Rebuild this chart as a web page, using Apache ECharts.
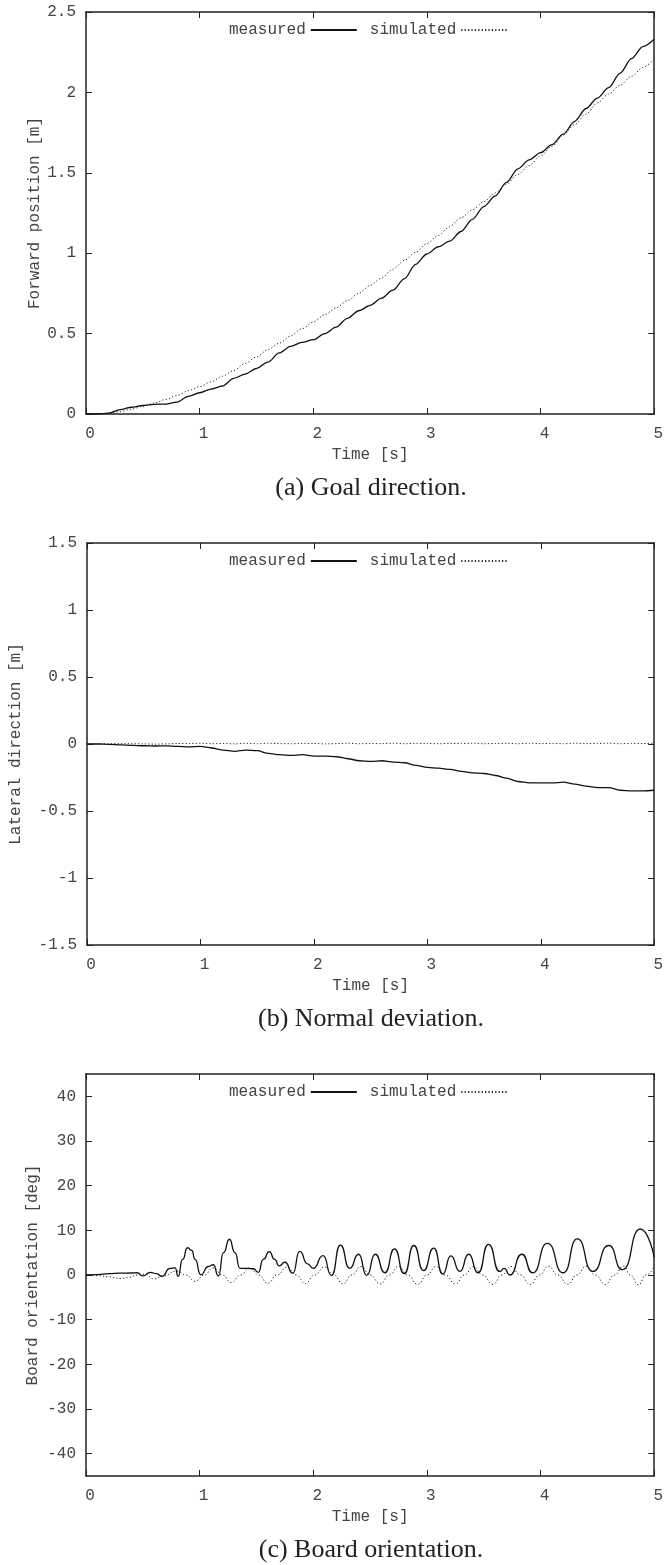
<!DOCTYPE html>
<html>
<head>
<meta charset="utf-8">
<script src="https://cdn.jsdelivr.net/npm/echarts@6/dist/echarts.min.js"></script>
<style>html,body{margin:0;padding:0;background:#fff}#c{width:666px;height:1565px}</style>
</head>
<body>
<div id="c"></div>
<script>
// ---- data ----
const seriesNames = ['measured', 'simulated'];
const timeAB = [0,0.1,0.2,0.3,0.4,0.5,0.6,0.7,0.8,0.9,1.0,1.1,1.2,1.3,1.4,1.5,1.6,1.7,1.8,1.9,2.0,2.1,2.2,2.3,2.4,2.5,2.6,2.7,2.8,2.9,3.0,3.1,3.2,3.3,3.4,3.5,3.6,3.7,3.8,3.9,4.0,4.1,4.2,4.3,4.4,4.5,4.6,4.7,4.8,4.9,5.0];
const measuredA = [0,0,0.005,0.027,0.042,0.053,0.06,0.062,0.074,0.11,0.132,0.155,0.174,0.222,0.248,0.283,0.322,0.38,0.42,0.445,0.462,0.5,0.54,0.595,0.642,0.675,0.72,0.77,0.84,0.93,0.995,1.04,1.075,1.135,1.21,1.29,1.355,1.44,1.525,1.58,1.625,1.675,1.74,1.82,1.9,1.965,2.03,2.12,2.21,2.285,2.33];
const simulatedA = [0,0,0.004,0.015,0.03,0.048,0.068,0.09,0.115,0.145,0.17,0.2,0.235,0.27,0.315,0.355,0.4,0.44,0.485,0.53,0.572,0.617,0.66,0.705,0.75,0.8,0.845,0.9,0.955,1.005,1.06,1.11,1.165,1.22,1.27,1.32,1.375,1.43,1.49,1.545,1.605,1.665,1.735,1.8,1.865,1.935,1.99,2.045,2.1,2.155,2.208];
const measuredB = [0,0,-0.003,-0.006,-0.01,-0.013,-0.015,-0.014,-0.018,-0.022,-0.018,-0.03,-0.045,-0.055,-0.045,-0.05,-0.07,-0.08,-0.085,-0.08,-0.09,-0.09,-0.095,-0.11,-0.125,-0.13,-0.125,-0.135,-0.14,-0.16,-0.175,-0.18,-0.19,-0.205,-0.215,-0.22,-0.235,-0.255,-0.28,-0.29,-0.29,-0.29,-0.285,-0.3,-0.315,-0.325,-0.325,-0.345,-0.35,-0.35,-0.345];
const simulatedB = [0,0.001,0.002,0.003,0.002,0.001,-0.001,0.001,0.004,0.003,0.006,0.002,0.004,0.001,0.005,0.002,0.006,0.003,0.002,0.005,0.004,0.001,0.003,0.006,0.002,0.004,0.003,0.006,0.002,0.005,0.004,0.002,0.005,0.003,0.006,0.002,0.004,0.005,0.002,0.006,0.003,0.005,0.002,0.006,0.003,0.004,0.006,0.002,0.005,0.003,0.006];
const timeCm = [0,0.1,0.2,0.3,0.4,0.45,0.5,0.566,0.62,0.668,0.74,0.785,0.81,0.85,0.893,0.93,0.96,1.01,1.077,1.12,1.165,1.21,1.262,1.31,1.355,1.42,1.473,1.516,1.56,1.613,1.66,1.70,1.75,1.82,1.88,1.95,2.0,2.086,2.16,2.238,2.32,2.399,2.47,2.545,2.63,2.715,2.80,2.885,2.97,3.06,3.14,3.21,3.29,3.367,3.45,3.542,3.64,3.68,3.73,3.835,3.93,4.06,4.2,4.323,4.46,4.6,4.72,4.878,5.0];
const measuredC = [0,0.1,0.3,0.4,0.45,0.5,-0.2,0.6,0.3,-0.3,1.5,1.6,-0.3,3.5,6.1,5.5,3.5,0.05,1.9,2.3,-0.2,5,8.0,5,1.5,1.5,1.4,0.6,3.5,5.25,3.5,2.05,2.85,0.4,5.3,2.5,1.5,4.35,-0.1,6.7,1.5,4.65,-0.1,4.65,0.5,5.85,0.3,6.6,1.0,6.0,0.2,4.3,0.8,4.65,0.5,6.86,0.8,1.5,0.0,4.65,0.5,7.1,0.5,8.07,0.8,6.6,1.2,10.3,4.0];
const timeCs = [0,0.1,0.2,0.3,0.38,0.45,0.52,0.6,0.68,0.8,0.88,0.96,1.04,1.12,1.2,1.28,1.36,1.44,1.52,1.6,1.68,1.77,1.85,1.93,2.01,2.1,2.18,2.26,2.34,2.42,2.5,2.59,2.67,2.75,2.83,2.92,3.0,3.08,3.16,3.25,3.33,3.41,3.49,3.58,3.66,3.74,3.82,3.91,3.99,4.07,4.15,4.24,4.32,4.4,4.48,4.57,4.65,4.73,4.79,4.86,4.93,5.0];
const simulatedC = [0,-0.1,-0.4,-0.8,-0.5,0,0.2,-0.9,-0.2,0.9,0,-1.4,0,1.6,0,-1.7,0,1.6,0,-1.9,0,1.8,0,-1.9,0,1.8,0,-2.0,0,1.9,0,-2.0,0,1.9,0,-2.1,0,1.9,0,-2.0,0,1.9,0,-2.1,0,1.9,0,-2.1,0,2.0,0,-2.1,0,2.0,0,-2.1,0,2.0,0,-2.2,0,1.9];
const yTicksC = [-40,-30,-20,-10,0,10,20,30,40];
const yNames = ['Forward position [m]', 'Lateral direction [m]', 'Board orientation [deg]'];
const captions = ['(a) Goal direction.', '(b) Normal deviation.', '(c) Board orientation.'];

// ---- layout / style ----
const FONT = '"Liberation Mono", "Courier New", monospace';
const TXT = '#444';
const AX = '#222';
const LEFT = 86, WIDTH = 570, HEIGHT = 402;
const TOPS = [12, 543, 1074];
const NAMEGAPS = [43, 63, 45];

function zip(t, v) { return t.map((x, i) => [x, v[i]]); }

const grids = TOPS.map(t => ({ left: LEFT, top: t, width: WIDTH, height: HEIGHT, show: false }));

const lineAx = { show: true, onZero: false, lineStyle: { color: AX, width: 1.5 } };
const tickAx = { show: true, inside: true, length: 6, lineStyle: { color: AX, width: 1 } };
const lblStyle = { fontFamily: FONT, fontSize: 16, color: TXT };

const xAxis = [];
const yAxis = [];
const yCfg = [
  { min: 0, max: 2.5, interval: 0.5 },
  { min: -1.5, max: 1.5, interval: 0.5 },
  { min: -45, max: 45, custom: yTicksC }
];
for (let g = 0; g < 3; g++) {
  xAxis.push({
    type: 'value', gridIndex: g, position: 'bottom', min: 0, max: 5, interval: 1,
    axisLine: lineAx, axisTick: tickAx, splitLine: { show: false },
    axisLabel: Object.assign({ margin: 12, padding: [0, 0, 0, 8], showMinLabel: true, showMaxLabel: true }, lblStyle),
    name: 'Time [s]', nameLocation: 'middle', nameGap: 33, nameTextStyle: lblStyle
  });
  xAxis.push({
    type: 'value', gridIndex: g, position: 'top', min: 0, max: 5, interval: 1,
    axisLine: lineAx, axisTick: tickAx, splitLine: { show: false }, axisLabel: { show: false }
  });
  const c = yCfg[g];
  const yl = {
    type: 'value', gridIndex: g, position: 'left', min: c.min, max: c.max,
    axisLine: lineAx, axisTick: Object.assign({}, tickAx), splitLine: { show: false },
    axisLabel: Object.assign({ margin: 10, showMinLabel: true, showMaxLabel: true }, lblStyle),
    name: yNames[g], nameLocation: 'middle', nameGap: NAMEGAPS[g], nameMoveOverlap: false,
    nameTextStyle: lblStyle
  };
  const yr = {
    type: 'value', gridIndex: g, position: 'right', min: c.min, max: c.max,
    axisLine: lineAx, axisTick: Object.assign({}, tickAx), splitLine: { show: false }, axisLabel: { show: false }
  };
  if (c.custom) {
    yl.axisTick.customValues = c.custom; yl.axisLabel.customValues = c.custom;
    yr.axisTick.customValues = c.custom; yr.axisLabel.customValues = c.custom;
  } else {
    yl.interval = c.interval; yr.interval = c.interval;
  }
  yAxis.push(yl, yr);
}

const data = [
  [zip(timeAB, measuredA), zip(timeAB, simulatedA)],
  [zip(timeAB, measuredB), zip(timeAB, simulatedB)],
  [zip(timeCm, measuredC), zip(timeCs, simulatedC)]
];
const series = [];
for (let g = 0; g < 3; g++) {
  series.push({
    name: seriesNames[0], type: 'line', xAxisIndex: 2 * g, yAxisIndex: 2 * g,
    data: data[g][0], symbol: 'none', smooth: g === 2 ? 0.6 : 0.3, smoothMonotone: 'x',
    lineStyle: { color: '#111', width: 1.3, type: 'solid' }, itemStyle: { color: '#111' },
    animation: false, silent: true, z: 3
  });
  series.push({
    name: seriesNames[1], type: 'line', xAxisIndex: 2 * g, yAxisIndex: 2 * g,
    data: data[g][1], symbol: 'none', smooth: g === 2 ? 0.5 : 0.3, smoothMonotone: 'x',
    lineStyle: { color: '#222', width: 1, type: [1.2, 2.2] }, itemStyle: { color: '#222' },
    animation: false, silent: true, z: 2
  });
}

const legends = TOPS.map(t => ({
  top: t + 5, left: 224, orient: 'horizontal', align: 'right',
  itemWidth: 46, itemHeight: 14, itemGap: 12, selectedMode: false,
  data: seriesNames, textStyle: lblStyle,
  itemStyle: { opacity: 0, borderWidth: 0 }
}));

const graphic = captions.map((txt, g) => ({
  type: 'text', x: LEFT + WIDTH / 2, y: TOPS[g] + HEIGHT + 74,
  style: { text: txt, fontFamily: '"Liberation Serif", "Times New Roman", serif', fontSize: 26,
           fill: '#222', align: 'center', verticalAlign: 'middle' }
}));

const chart = echarts.init(document.getElementById('c'), null, { renderer: 'canvas' });
chart.setOption({
  animation: false,
  backgroundColor: '#fff',
  grid: grids, xAxis, yAxis, series, legend: legends, graphic
});
</script>
</body>
</html>
